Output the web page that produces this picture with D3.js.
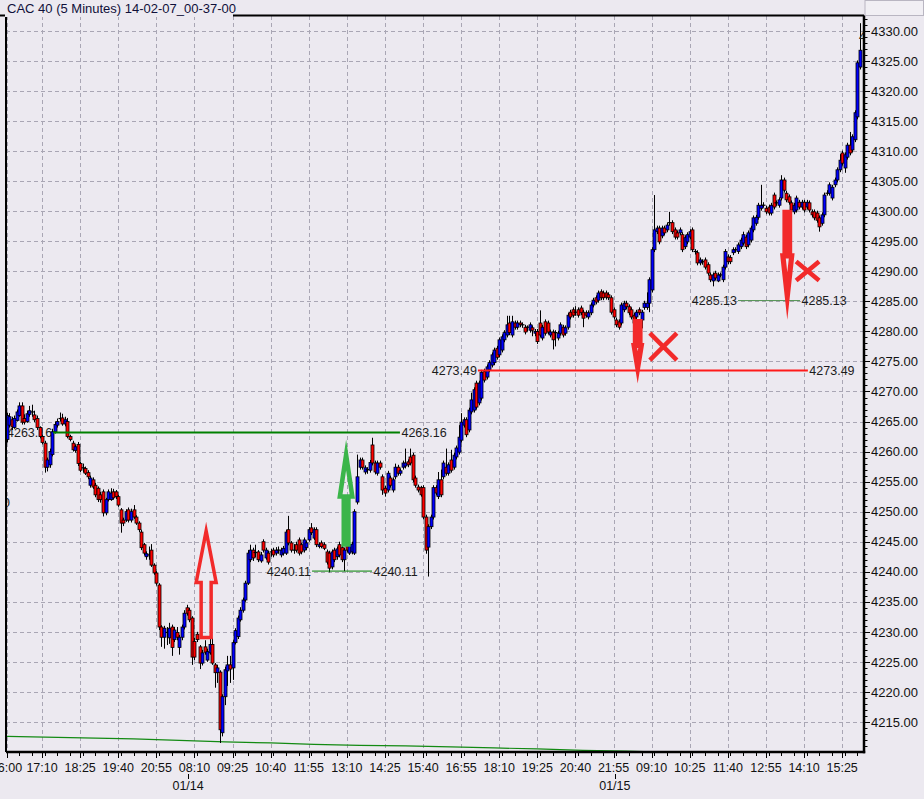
<!DOCTYPE html>
<html><head><meta charset="utf-8">
<script src="https://cdn.jsdelivr.net/npm/d3@7/dist/d3.min.js"></script>
<style>html,body{margin:0;padding:0;background:#ece9f0;}svg{display:block;}</style>
</head><body>
<svg id="chart" width="924" height="799"></svg>
<script>
const title = "CAC 40 (5 Minutes) 14-02-07_00-37-00";
const opens = [
4262.0,4264.4,4265.3,4264.0,4265.2,4266.0,4267.6,4265.5,4265.0,4266.2,
4266.6,4266.1,4265.5,4264.0,4262.5,4261.4,4257.4,4257.8,4259.5,4263.3,
4264.4,4265.5,4265.6,4264.6,4265.0,4262.5,4261.4,4260.2,4261.2,4258.0,
4257.3,4257.2,4256.5,4254.4,4255.3,4254.4,4253.9,4252.8,4253.3,4249.8,
4252.0,4252.0,4253.3,4253.3,4252.5,4250.3,4248.6,4248.6,4250.3,4248.6,
4250.3,4249.1,4248.1,4246.6,4244.5,4242.5,4242.8,4243.6,4241.1,4239.8,
4237.8,4230.8,4229.1,4229.9,4229.0,4230.8,4228.7,4229.9,4227.4,4229.1,
4230.8,4234.0,4233.6,4232.3,4228.4,4229.6,4227.5,4224.8,4227.5,4225.3,
4226.5,4227.9,4224.5,4223.2,4223.3,4213.2,4219.2,4223.5,4224.5,4224.0,
4228.2,4229.2,4232.0,4233.6,4235.3,4238.1,4242.0,4243.6,4243.2,4243.3,
4241.8,4245.0,4242.3,4243.1,4243.3,4243.6,4243.1,4243.6,4242.8,4243.1,
4243.1,4247.0,4244.8,4243.6,4244.5,4245.3,4244.5,4243.6,4244.0,4245.3,
4247.3,4245.6,4247.0,4244.2,4244.8,4244.5,4243.3,4243.1,4240.8,4243.6,
4242.5,4244.5,4244.0,4242.0,4244.8,4243.1,4243.3,4243.1,4251.6,4257.4,
4258.6,4256.6,4257.0,4256.9,4261.1,4258.1,4256.4,4258.1,4255.8,4253.9,
4253.6,4255.6,4253.6,4255.8,4257.4,4256.4,4257.4,4257.6,4258.3,4259.1,
4259.4,4255.6,4254.1,4254.0,4254.0,4249.1,4244.1,4247.5,4249.1,4254.0,
4252.5,4255.3,4255.8,4257.4,4256.4,4258.6,4257.4,4259.1,4259.9,4261.9,
4264.4,4265.3,4263.6,4266.6,4266.9,4271.4,4268.1,4268.9,4273.3,4272.4,
4273.6,4274.4,4274.8,4277.2,4276.1,4276.9,4278.6,4279.4,4281.4,4279.4,
4281.4,4280.7,4281.4,4281.1,4280.7,4280.7,4280.2,4280.6,4279.7,4280.0,
4281.4,4278.9,4281.6,4281.4,4279.4,4279.9,4279.8,4278.9,4279.7,4280.7,
4279.7,4280.7,4283.2,4283.6,4283.2,4283.6,4283.9,4283.2,4283.1,4282.4,
4283.1,4284.4,4285.6,4285.2,4286.6,4286.4,4286.4,4286.1,4285.6,4283.6,
4281.9,4281.6,4281.4,4283.6,4284.7,4284.1,4283.6,4282.7,4282.4,4283.6,
4281.9,4284.0,4284.0,4284.7,4286.9,4293.6,4296.6,4297.2,4295.9,4297.2,
4296.9,4298.1,4298.1,4296.9,4296.4,4296.4,4296.1,4294.1,4294.9,4295.7,
4296.9,4293.3,4293.1,4291.4,4291.6,4291.9,4291.1,4289.4,4288.4,4289.7,
4288.4,4289.4,4288.6,4290.7,4292.4,4292.3,4293.1,4293.6,4293.3,4294.1,
4294.7,4295.7,4294.4,4295.2,4296.9,4298.0,4299.0,4300.5,4301.0,4300.5,
4300.7,4299.7,4302.7,4301.4,4301.0,4302.2,4305.2,4303.0,4302.4,4301.4,
4299.9,4300.2,4301.5,4300.7,4301.5,4300.7,4301.4,4299.9,4299.9,4299.7,
4298.9,4298.0,4299.4,4303.0,4303.0,4302.2,4304.4,4305.2,4306.9,4309.7,
4307.2,4309.0,4311.0,4310.2,4311.9,4315.7,4324.0];
const closes = [
4266.0,4265.8,4264.1,4265.5,4266.6,4267.6,4264.9,4264.9,4266.3,4266.8,
4266.5,4265.3,4264.0,4262.5,4261.5,4257.4,4258.6,4260.0,4263.3,4264.5,
4265.0,4265.6,4264.6,4265.3,4262.5,4262.0,4260.3,4260.8,4258.0,4256.9,
4257.2,4256.4,4255.8,4255.6,4254.1,4252.8,4252.0,4252.0,4249.8,4252.0,
4253.3,4253.1,4252.3,4252.5,4251.1,4248.1,4248.1,4250.0,4248.6,4250.0,
4249.1,4248.1,4247.0,4244.0,4243.1,4243.0,4242.9,4241.1,4239.8,4238.1,
4230.8,4229.1,4230.6,4229.8,4230.6,4227.4,4230.3,4229.1,4229.1,4230.8,
4233.1,4233.1,4232.0,4225.8,4225.8,4228.7,4224.8,4226.5,4226.6,4226.7,
4227.9,4224.8,4223.2,4224.0,4213.7,4219.2,4223.7,4224.5,4223.8,4228.2,
4230.2,4232.3,4233.6,4235.3,4238.1,4243.1,4243.6,4242.3,4243.3,4242.0,
4242.8,4243.6,4243.6,4241.6,4243.2,4242.8,4243.6,4243.6,4243.6,4243.9,
4246.6,4244.8,4243.6,4243.5,4243.6,4243.1,4243.3,4245.3,4244.8,4247.0,
4246.5,4247.0,4244.5,4244.5,4244.2,4243.9,4241.6,4240.6,4243.3,4242.0,
4243.8,4242.8,4242.0,4243.6,4243.6,4244.5,4244.6,4250.0,4255.8,4258.6,
4257.4,4257.3,4256.9,4258.2,4258.1,4256.6,4258.1,4257.4,4253.6,4253.1,
4256.4,4254.4,4255.3,4257.4,4256.4,4256.8,4258.1,4258.1,4257.8,4258.1,
4255.3,4254.4,4253.6,4252.8,4249.1,4243.6,4247.5,4249.1,4254.0,4253.1,
4255.3,4252.8,4258.1,4256.4,4257.8,4256.9,4259.4,4260.6,4262.4,4264.9,
4265.3,4262.8,4266.9,4268.6,4270.3,4267.4,4271.4,4273.2,4271.9,4274.1,
4274.8,4276.1,4276.9,4275.7,4278.6,4279.1,4279.8,4281.1,4279.8,4281.6,
4280.7,4281.4,4281.1,4281.0,4279.9,4280.6,4281.1,4280.2,4280.0,4278.3,
4279.4,4280.7,4279.7,4279.9,4279.9,4278.6,4279.7,4279.7,4281.1,4279.4,
4280.6,4282.7,4282.4,4282.7,4283.1,4282.7,4283.1,4282.2,4282.7,4283.1,
4284.4,4285.2,4284.9,4286.4,4285.6,4285.6,4285.7,4285.6,4283.2,4282.4,
4281.1,4280.7,4284.4,4284.7,4284.1,4283.1,4282.4,4281.4,4283.2,4283.1,
4283.2,4284.7,4284.7,4288.6,4293.6,4296.9,4297.2,4294.9,4297.2,4296.4,
4297.7,4298.0,4296.6,4295.7,4295.7,4296.9,4293.6,4295.6,4296.1,4296.6,
4293.6,4293.2,4291.4,4291.9,4291.5,4290.7,4289.7,4288.6,4289.4,4288.9,
4289.4,4289.4,4290.7,4293.3,4291.6,4291.6,4293.6,4293.5,4294.4,4295.2,
4296.1,4294.1,4296.4,4297.2,4298.9,4299.0,4301.0,4301.0,4301.1,4299.9,
4299.7,4301.0,4300.7,4301.3,4301.9,4305.2,4303.5,4301.9,4301.5,4300.2,
4301.0,4302.2,4300.7,4301.5,4300.2,4301.5,4300.2,4299.4,4298.9,4298.5,
4297.4,4299.4,4302.7,4303.1,4304.4,4304.0,4305.2,4306.9,4308.5,4308.0,
4309.4,4311.0,4309.7,4312.4,4316.4,4324.7,4326.8];
const highs = [
4266.5,4266.4,4265.8,4266.0,4267.0,4268.2,4268.2,4266.2,4266.8,4267.6,
4267.8,4266.8,4266.0,4264.2,4262.8,4261.8,4259.0,4260.5,4263.8,4265.0,
4265.5,4266.5,4266.3,4265.8,4265.6,4262.8,4261.8,4261.2,4261.6,4258.3,
4258.0,4257.5,4256.9,4256.0,4255.7,4254.8,4254.2,4253.3,4253.7,4252.3,
4253.7,4253.9,4253.8,4253.6,4252.8,4250.6,4249.0,4250.4,4250.7,4250.5,
4251.1,4249.4,4248.4,4247.0,4244.8,4243.4,4244.2,4244.6,4241.4,4240.1,
4238.1,4231.1,4231.0,4230.8,4231.5,4231.2,4230.8,4230.8,4229.5,4231.2,
4233.6,4234.5,4234.0,4232.6,4229.0,4230.0,4227.8,4227.0,4228.6,4227.2,
4229.1,4229.0,4224.8,4224.5,4223.6,4219.6,4224.2,4226.0,4226.0,4228.6,
4230.6,4232.7,4234.1,4235.7,4238.5,4243.6,4244.5,4244.0,4244.5,4243.6,
4243.3,4245.4,4244.0,4243.5,4243.8,4244.0,4244.1,4244.2,4244.0,4244.3,
4247.0,4249.3,4245.1,4244.6,4245.0,4245.7,4244.8,4245.7,4245.2,4247.4,
4248.1,4247.4,4247.4,4244.9,4245.2,4244.9,4243.7,4243.5,4243.7,4244.0,
4244.2,4245.0,4244.4,4244.0,4245.1,4244.9,4245.0,4250.4,4259.5,4259.0,
4259.0,4257.7,4257.4,4258.6,4262.3,4258.5,4258.5,4258.5,4256.2,4254.3,
4256.8,4256.0,4255.7,4258.0,4257.8,4257.2,4258.5,4260.5,4258.7,4260.5,
4259.8,4256.0,4254.5,4254.3,4254.4,4249.5,4247.9,4249.5,4254.4,4254.4,
4256.6,4257.0,4258.5,4260.5,4258.2,4260.3,4259.8,4261.0,4264.4,4266.4,
4265.7,4265.7,4267.3,4269.8,4270.7,4271.8,4271.8,4273.6,4273.8,4274.5,
4275.2,4276.5,4277.3,4277.6,4279.0,4279.5,4280.2,4282.6,4282.6,4282.6,
4281.8,4281.8,4281.8,4281.5,4281.1,4281.0,4281.5,4281.0,4280.4,4280.4,
4283.5,4281.1,4282.0,4281.8,4280.3,4280.3,4280.2,4280.1,4281.5,4281.1,
4281.0,4283.1,4283.6,4284.0,4284.2,4284.0,4284.3,4283.6,4283.5,4283.5,
4284.8,4285.6,4286.0,4286.8,4287.0,4286.8,4286.8,4286.5,4286.0,4284.0,
4282.3,4282.0,4284.8,4285.1,4285.1,4284.5,4284.0,4283.1,4283.6,4284.0,
4283.6,4285.1,4286.5,4289.0,4294.0,4302.7,4297.6,4297.6,4297.6,4297.6,
4298.1,4299.9,4298.5,4297.3,4296.8,4297.3,4296.5,4296.0,4296.5,4297.0,
4297.3,4293.7,4293.5,4292.3,4292.0,4292.3,4291.5,4289.8,4289.8,4290.1,
4289.8,4289.8,4291.1,4293.7,4292.8,4292.7,4294.0,4294.0,4294.8,4295.6,
4296.6,4296.1,4296.8,4297.6,4299.3,4299.4,4301.4,4304.4,4301.5,4300.9,
4301.1,4301.4,4303.1,4301.8,4302.3,4306.0,4305.6,4303.4,4302.8,4301.8,
4301.4,4302.6,4301.9,4301.9,4301.9,4301.9,4301.8,4300.3,4300.3,4300.1,
4299.3,4299.8,4303.1,4303.5,4304.8,4304.4,4305.6,4307.3,4309.5,4310.1,
4309.8,4311.4,4313.2,4312.8,4316.8,4325.1,4331.3];
const lows = [
4261.5,4264.0,4263.6,4263.8,4265.0,4265.8,4264.5,4264.5,4264.8,4265.8,
4265.8,4264.9,4263.6,4262.2,4261.2,4256.5,4256.7,4257.3,4259.2,4263.0,
4264.0,4265.0,4264.3,4264.2,4262.2,4261.7,4260.0,4259.8,4257.6,4256.6,
4256.5,4256.1,4255.4,4254.0,4253.8,4252.4,4251.6,4251.5,4249.2,4249.4,
4251.7,4251.8,4252.0,4252.1,4250.8,4246.5,4247.6,4248.3,4248.2,4248.2,
4248.8,4247.8,4246.6,4243.6,4242.7,4242.0,4242.0,4240.8,4239.5,4237.7,
4230.3,4227.5,4227.2,4227.8,4228.0,4226.0,4228.3,4228.6,4226.2,4228.6,
4230.4,4232.7,4231.6,4224.5,4225.3,4228.3,4223.8,4224.4,4226.2,4225.0,
4226.2,4224.5,4220.7,4221.5,4211.5,4212.6,4217.8,4221.0,4221.5,4222.0,
4227.9,4228.8,4231.7,4233.2,4235.0,4237.8,4241.6,4241.8,4242.4,4241.6,
4241.5,4243.2,4242.0,4241.2,4242.5,4242.4,4242.7,4243.0,4242.4,4242.7,
4242.8,4244.4,4243.2,4243.0,4243.2,4242.7,4242.9,4243.2,4243.6,4245.0,
4246.1,4245.3,4244.1,4243.9,4243.9,4243.6,4241.2,4239.9,4240.4,4241.6,
4242.0,4242.4,4241.6,4240.1,4243.2,4242.8,4242.9,4242.8,4251.2,4257.0,
4257.0,4256.2,4256.3,4256.5,4257.7,4256.2,4256.0,4257.0,4252.8,4252.5,
4253.2,4254.0,4253.2,4255.4,4256.0,4256.0,4257.0,4257.2,4257.4,4257.7,
4254.9,4254.0,4253.2,4252.5,4248.7,4243.0,4239.2,4247.1,4248.7,4252.7,
4252.1,4252.4,4255.4,4256.0,4256.0,4256.5,4257.0,4258.7,4259.5,4261.5,
4264.0,4262.4,4263.2,4266.2,4266.5,4267.0,4267.7,4268.5,4271.5,4272.0,
4273.2,4274.0,4274.4,4275.3,4275.7,4276.5,4278.2,4279.0,4279.4,4279.0,
4280.3,4280.3,4280.7,4280.6,4279.5,4280.0,4279.8,4279.2,4279.2,4277.9,
4279.0,4278.5,4279.3,4279.5,4279.0,4277.0,4277.5,4278.5,4279.3,4279.0,
4279.3,4280.3,4282.0,4282.3,4282.6,4282.3,4282.7,4280.7,4282.3,4282.0,
4282.7,4284.0,4284.5,4284.8,4285.2,4285.2,4285.3,4285.2,4282.8,4282.0,
4280.7,4280.3,4281.0,4283.2,4283.7,4282.7,4282.0,4281.0,4282.0,4282.7,
4280.5,4283.6,4283.6,4283.2,4286.5,4293.2,4296.2,4294.5,4295.5,4296.0,
4296.5,4297.6,4296.2,4295.3,4295.3,4296.0,4293.2,4293.7,4294.5,4295.3,
4293.2,4292.8,4291.0,4291.0,4291.1,4290.3,4289.3,4288.2,4287.5,4288.5,
4288.2,4289.0,4288.2,4290.3,4291.2,4291.2,4292.7,4293.1,4292.9,4293.7,
4294.3,4293.7,4294.0,4294.8,4296.5,4297.6,4298.6,4300.1,4300.6,4299.5,
4299.3,4299.3,4300.3,4300.9,4300.6,4301.8,4303.1,4301.5,4301.1,4299.8,
4299.5,4299.8,4300.3,4300.3,4299.8,4300.3,4299.8,4299.0,4298.5,4298.1,
4296.6,4297.6,4299.0,4302.6,4302.6,4301.8,4304.0,4304.8,4306.5,4307.6,
4306.4,4308.6,4309.3,4309.8,4311.5,4315.3,4323.6];

const tickLabels = ["16:00","17:10","18:25","19:40","20:55","08:10","09:25","10:40","11:55","13:10","14:25","15:40","16:55","18:10","19:25","20:40","21:55","09:10","10:25","11:40","12:55","14:10","15:25"];
const tickIndex = [0,14,29,44,59,74,89,104,119,134,149,164,179,194,209,224,239,254,269,284,299,314,329];
const dateLabels = ["01/14","01/15"];
const dateIndex = [71.5,239.5];
const priceTicks = [4215,4220,4225,4230,4235,4240,4245,4250,4255,4260,4265,4270,4275,4280,4285,4290,4295,4300,4305,4310,4315,4320,4325,4330];

const maIndex = [0,50,68,86,104,121,139,157,175,192,209,227,244,261];
const maValues = [4212.59,4212.18,4211.93,4211.68,4211.51,4211.26,4211.09,4211.01,4210.85,4210.68,4210.51,4210.26,4210.13,4209.93];

const refPrices = [4263.16,4240.11,4273.49,4285.13];
const refFrom = [18.3,120.3,185.6,288.0];
const refTo = [154.9,143.9,315.5,312.4];

// arrows: center index, tail price, head-base price, tip price
const arrowIdx = [78.6,133.7,248.5,307.4];
const arrowTail = [4229.07,4244.55,4281.65,4299.80];
const arrowHead = [4238.22,4252.53,4277.66,4292.56];
const arrowTip = [4246.79,4259.44,4274.00,4285.90];
// crosses: center index, center price
const crossIdx = [258.6,315.4];
const crossPrice = [4277.46,4290.06];

const svg = d3.select("#chart");
const L = 6, T = 16, R = 864, B = 752;
const x = d3.scaleLinear().domain([0,336]).range([6.5, 6.5 + 336*2.54]);
const y = d3.scaleLinear().domain([4210.0, 4332.33]).range([B, 17]);
const FONT = "'Liberation Sans', Arial, sans-serif";
const data = opens.map((o,i)=>({i, o, c:closes[i], h:highs[i], l:lows[i]}));

svg.append("rect").attr("width",924).attr("height",799).attr("fill","#ece9f0");
svg.append("defs").append("clipPath").attr("id","plotclip")
  .append("rect").attr("x",L+1).attr("y",T+1).attr("width",R-L-1).attr("height",B-T-1);

// grid
const grid = svg.append("g").attr("stroke","#a9a6b4").attr("stroke-width",1).attr("stroke-dasharray","4,3").attr("shape-rendering","crispEdges");
priceTicks.forEach(p=>{
  grid.append("line").attr("x1",L).attr("x2",R).attr("y1",Math.round(y(p))+0.5).attr("y2",Math.round(y(p))+0.5);
});
tickIndex.forEach(t=>{
  const xx = Math.round(x(t))+0.5;
  grid.append("line").attr("x1",xx).attr("x2",xx).attr("y1",T).attr("y2",B);
});

const plot = svg.append("g").attr("clip-path","url(#plotclip)");

// partial labels near edges
plot.append("text").attr("x",3).attr("y",y(4251.5)).attr("dy","0.35em").attr("font-family",FONT).attr("font-size",12.5).attr("fill","#222").text("0");

// reference line labels (under candles)
const refG = plot.append("g").attr("font-family",FONT).attr("font-size",12.5).attr("fill","#1c1c1c");
refPrices.forEach((p,k)=>{
  const yy = y(p);
  const lx = k===0 ? L+1 : x(refFrom[k]) - 1;
  refG.append("text").attr("x",lx).attr("y",yy).attr("dy","0.36em")
    .attr("text-anchor", k===0 ? "start" : "end").text(p.toFixed(2));
  refG.append("text").attr("x",x(refTo[k])+1.5).attr("y",yy).attr("dy","0.36em").text(p.toFixed(2));
});

// moving average line
plot.append("path")
  .datum(maIndex.map((t,k)=>[t,maValues[k]]))
  .attr("fill","none").attr("stroke","#138a13").attr("stroke-width",1.2)
  .attr("d", d3.line().x(d=>x(d[0])).y(d=>y(d[1])));

// candles
const cg = plot.append("g");
data.forEach(d=>{
  const cx = x(d.i);
  const xc = Math.round(cx)+0.5;
  cg.append("line").attr("x1",xc).attr("x2",xc).attr("y1",y(d.h)).attr("y2",y(d.l))
    .attr("stroke","#000").attr("stroke-width",1);
  if (Math.abs(d.c-d.o) < 0.2) {
    cg.append("line").attr("x1",xc-2).attr("x2",xc+2).attr("y1",y(d.o)).attr("y2",y(d.o))
      .attr("stroke","#000").attr("stroke-width",1.2);
  } else {
    const top = y(Math.max(d.o,d.c)), bot = y(Math.min(d.o,d.c));
    cg.append("rect").attr("x",xc-1.5).attr("width",3).attr("y",top).attr("height",Math.max(1,bot-top))
      .attr("fill", d.c>d.o ? "#0000ff" : "#ff0000").attr("stroke","#000").attr("stroke-width",0.8);
  }
});

// reference lines
const refColors = ["#008000","#008000","#ff1a1a","#4f8f4f"];
const refWidths = [2,1,2,1];
refPrices.forEach((p,k)=>{
  plot.append("line").attr("x1",x(refFrom[k])).attr("x2",x(refTo[k])).attr("y1",y(p)).attr("y2",y(p))
    .attr("stroke",refColors[k]).attr("stroke-width",refWidths[k]);
});

// arrows
const arrowShaft = [5,2.3,2.3,2.3];
const arrowHalf = [10,6.2,3.6,4.4];
const arrowColor = ["#f22a2a","#3bb54a","#f22a2a","#f22a2a"];
const arrowStroke = [3.5,4.6,5.2,5.2];
arrowIdx.forEach((ai,k)=>{
  const cx = x(ai), yt = y(arrowTail[k]), yh = y(arrowHead[k]), yp = y(arrowTip[k]);
  const s = arrowShaft[k], h = arrowHalf[k];
  const pts = [[cx-s,yt],[cx-s,yh],[cx-h,yh],[cx,yp],[cx+h,yh],[cx+s,yh],[cx+s,yt]];
  plot.append("path").attr("d","M"+pts.map(p=>p.join(",")).join("L")+"Z")
    .attr("fill","none").attr("stroke",arrowColor[k]).attr("stroke-width",arrowStroke[k])
    .attr("stroke-linejoin","miter").attr("stroke-miterlimit",20);
});

// crosses
const crossW = [13.5,11.5], crossH = [13.5,9.5];
crossIdx.forEach((ci,k)=>{
  const cx = x(ci), cy = y(crossPrice[k]);
  const w = crossW[k], h = crossH[k];
  plot.append("path").attr("d",`M${cx-w},${cy-h}L${cx+w},${cy+h}M${cx+w},${cy-h}L${cx-w},${cy+h}`)
    .attr("stroke","#f22a2a").attr("stroke-width",4.5).attr("fill","none");
});

plot.append("text").attr("x",859).attr("y",y(4329)).attr("dy","0.35em").attr("font-family",FONT).attr("font-size",12.5).attr("fill","#222").text("4");

// frame
svg.append("line").attr("x1",R).attr("x2",R).attr("y1",T-1).attr("y2",B+1.2).attr("stroke","#000").attr("stroke-width",2.5);
svg.append("line").attr("x1",L).attr("x2",R+1.2).attr("y1",B).attr("y2",B).attr("stroke","#000").attr("stroke-width",2.5);
svg.append("line").attr("x1",L).attr("x2",L).attr("y1",T-1).attr("y2",B).attr("stroke","#000").attr("stroke-width",2);
svg.append("line").attr("x1",0).attr("x2",R).attr("y1",T-0.5).attr("y2",T-0.5).attr("stroke","#000").attr("stroke-width",2);
// title
svg.append("rect").attr("x",5).attr("y",0).attr("width",228).attr("height",T+1).attr("fill","#ece9f0");
svg.append("text").attr("x",7).attr("y",13).attr("font-family",FONT).attr("font-size",13).attr("fill","#10103a").text(title);
svg.append("rect").attr("x",R+1).attr("y",0.5).attr("width",924-R-1.5).attr("height",T-1).attr("fill","#f1eff4").attr("stroke","#b9b6c2");

// right axis
const ra = svg.append("g").attr("font-family",FONT).attr("font-size",13).attr("fill","#111");
for (let p=4211; p<=4332; p++) {
  const yy = Math.round(y(p))+0.5;
  const major = p%5===0;
  svg.append("line").attr("x1",R+1).attr("x2",R+(major?6:3.5)).attr("y1",yy).attr("y2",yy).attr("stroke","#000").attr("stroke-width",1);
}
priceTicks.forEach(p=>{
  ra.append("text").attr("x",871).attr("y",y(p)).attr("dy","0.36em").text(p.toFixed(2));
});

// bottom axis
const ba = svg.append("g").attr("font-family",FONT).attr("font-size",12.5).attr("fill","#111").attr("text-anchor","middle");
for (let t=0; t<=336; t+=5) {
  const xx = Math.round(x(t))+0.5;
  svg.append("line").attr("x1",xx).attr("x2",xx).attr("y1",B).attr("y2",B+4).attr("stroke","#000").attr("stroke-width",1);
}
tickIndex.forEach((t,k)=>{
  const xx = Math.round(x(t))+0.5;
  svg.append("line").attr("x1",xx).attr("x2",xx).attr("y1",B).attr("y2",B+6).attr("stroke","#000").attr("stroke-width",1);
  ba.append("text").attr("x",x(t)).attr("y",772).text(tickLabels[k]);
});
dateIndex.forEach((t,k)=>{
  const xx = Math.round(x(t))+0.5;
  svg.append("line").attr("x1",xx).attr("x2",xx).attr("y1",774).attr("y2",779).attr("stroke","#000").attr("stroke-width",1);
  ba.append("text").attr("x",x(t)).attr("y",790).text(dateLabels[k]);
});
</script>
</body></html>
